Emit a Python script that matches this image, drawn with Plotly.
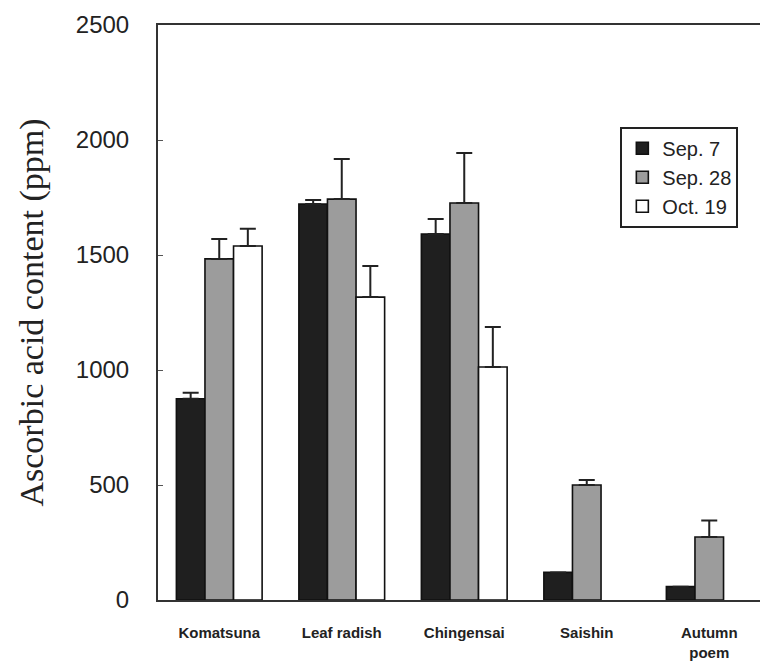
import plotly.graph_objects as go

categories = ["Komatsuna", "Leaf radish", "Chingensai", "Saishin", "Autumn<br>poem"]
series_names = ["Sep. 7", "Sep. 28", "Oct. 19"]
sep7 = [875, 1722, 1591, 120, 58]
sep7_err = [26, 17, 65, 0, 0]
sep28 = [1483, 1743, 1726, 500, 274]
sep28_err = [87, 174, 217, 22, 72]
oct19 = [1539, 1317, 1013, None, None]
oct19_err = [75, 135, 174, 0, 0]
y_ticks = [0, 500, 1000, 1500, 2000, 2500]

colors = ["#1f1f1f", "#9c9c9c", "#ffffff"]
values = [sep7, sep28, oct19]
errors = [sep7_err, sep28_err, oct19_err]

fig = go.Figure()
for name, vals, errs, col in zip(series_names, values, errors, colors):
    fig.add_trace(go.Bar(
        name=name, x=categories, y=vals,
        marker=dict(color=col, line=dict(color="#111111", width=1.6)),
        error_y=dict(type="data", array=errs, arrayminus=[0] * len(errs),
                     symmetric=False, color="#222222", thickness=2, width=8),
    ))

fig.update_layout(
    width=760, height=667,
    margin=dict(l=158, r=0, t=25, b=67),
    paper_bgcolor="white", plot_bgcolor="white",
    barmode="group", bargap=0.3, bargroupgap=0,
    showlegend=True,
    legend=dict(x=0.768, y=0.823, xanchor="left", yanchor="top",
                bordercolor="#222222", borderwidth=2, bgcolor="white",
                font=dict(family="Arial, Liberation Sans", size=20, color="#222222"),
                traceorder="normal", tracegroupgap=4),
    font=dict(family="Arial, Liberation Sans", color="#222222"),
)
fig.update_xaxes(
    range=[-0.5, -0.5 + 602 / 122.5], showline=True, linecolor="#333333", linewidth=2,
    mirror=True, ticks="", showgrid=False, zeroline=False,
    tickfont=dict(family="Arial, Liberation Sans", size=15, color="#222222", weight="bold"),
    ticklabelstandoff=18,
)
fig.update_yaxes(
    range=[0, 2500], tickvals=y_ticks, ticktext=[str(v) for v in y_ticks],
    showline=True, linecolor="#333333", linewidth=2, mirror=False,
    ticks="inside", ticklen=5, tickcolor="#555555", showgrid=False, zeroline=False,
    tickfont=dict(family="Arial, Liberation Sans", size=24, color="#222222"),
    ticklabelstandoff=22,
    title=dict(text="Ascorbic acid content (ppm)", standoff=22,
               font=dict(family="Times New Roman, Liberation Serif", size=34, color="#222222")),
)
fig.write_html("out.html")
